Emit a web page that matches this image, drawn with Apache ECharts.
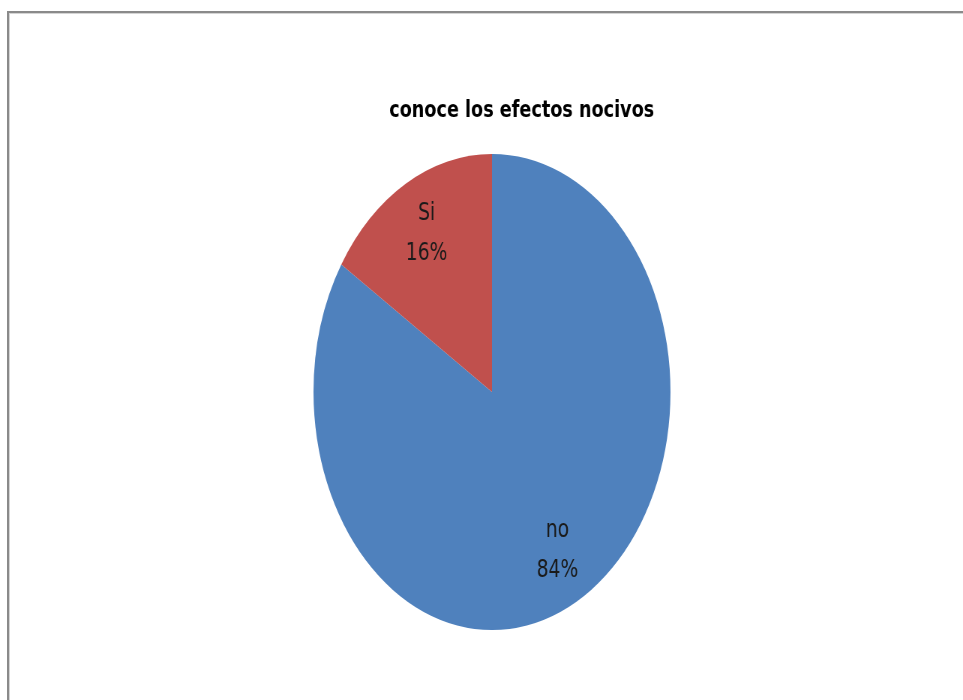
<!DOCTYPE html>
<html>
<head>
<meta charset="utf-8">
<script src="https://cdn.jsdelivr.net/npm/echarts@6/dist/echarts.min.js"></script>
<style>
  html, body { margin: 0; padding: 0; background: #fff; overflow: hidden; width: 963px; height: 700px; }
  #frame { position: absolute; left: 7px; top: 11px; width: 980px; height: 720px;
           border-top: 2px solid #8a8a8a; border-left: 2px solid #8a8a8a;
           box-shadow: inset 1px 1px 0 #d4d4d4; }
  #chart { position: absolute; left: 0; top: 0; width: 1284px; height: 700px;
           transform: scaleX(0.75); transform-origin: 0 0; }
</style>
</head>
<body>
<div id="frame"></div>
<div id="chart"></div>
<script>
const titleText = 'conoce los efectos nocivos';
const categories = ['no', 'Si'];
const values = [84, 16];
const colors = ['#4F81BD', '#C0504D'];

const pieData = categories.map((c, i) => ({ name: c, value: values[i], itemStyle: { color: colors[i] } }));
const labelData = categories.map((c, i) => ({ name: c, value: values[i] }));

const chart = echarts.init(document.getElementById('chart'), null, { renderer: 'canvas' });
chart.setOption({
  animation: false,
  backgroundColor: 'transparent',
  title: {
    text: titleText,
    left: 514,
    top: 94,
    textStyle: { fontFamily: 'DejaVu Sans', fontWeight: 'bold', fontSize: 23.5, color: '#000' }
  },
  series: [
    {
      type: 'pie',
      center: [656, 392],
      radius: [0, 238],
      startAngle: 90,
      clockwise: true,
      silent: true,
      label: { show: false },
      labelLine: { show: false },
      itemStyle: { borderWidth: 0 },
      data: pieData
    },
    {
      type: 'pie',
      center: [656, 392],
      radius: [118, 238],
      startAngle: 90,
      clockwise: true,
      silent: true,
      itemStyle: { color: 'rgba(0,0,0,0)', borderWidth: 0 },
      label: {
        show: true,
        position: 'inside',
        formatter: '{b}\n{d}%',
        fontFamily: 'DejaVu Sans',
        fontSize: 25,
        lineHeight: 40,
        color: '#1a1a1a'
      },
      labelLine: { show: false },
      data: labelData
    }
  ]
});
</script>
</body>
</html>
